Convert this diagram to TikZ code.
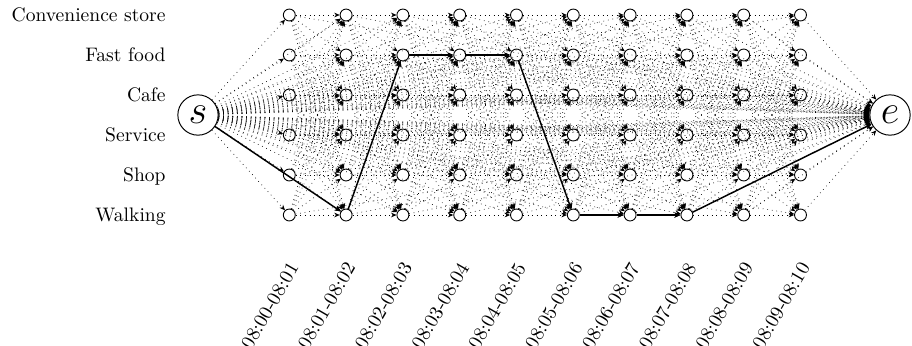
\documentclass[tikz,border=0pt]{standalone}
\usetikzlibrary{arrows.meta}
\begin{document}
\begin{tikzpicture}[x=0.511pt,y=-0.511pt,
  state/.style={circle,draw,line width=0.45pt,minimum size=6.1pt,inner sep=0pt},
  term/.style={circle,draw,line width=0.5pt,minimum size=20.6pt,inner sep=0pt,font=\huge},
  dotedge/.style={dotted,line width=0.35pt,-{Stealth[length=2.8pt,width=2.4pt]}},
  pathedge/.style={line width=0.75pt,-{Stealth[length=3.2pt,width=2.8pt]}},
  rowlabel/.style={anchor=base east,inner sep=0pt,font=\normalsize},
  timelabel/.style={anchor=east,rotate=60,inner sep=0pt,font=\normalsize}]
\useasboundingbox (0,0) rectangle (912,345);
% states
\foreach \c in {1,...,10}{
  \foreach \r in {1,...,6}{
    \node[state] (n\c-\r) at ({289.3+56.8*(\c-1)},{15+40*(\r-1)}) {};
  }
}
\node[term] (s) at (198,115) {$s$};
\node[term] (e) at (890,115) {$e$};
% row labels
\node[rowlabel] (l1) at (166,21.5) {Convenience store};
\node[rowlabel] (l2) at (166,61.5) {Fast food};
\node[rowlabel] (l3) at (166,101.5) {Cafe};
\node[rowlabel] (l4) at (166,141.5) {Service};
\node[rowlabel] (l5) at (166,181.5) {Shop};
\node[rowlabel] (l6) at (166,221.5) {Walking};
% time labels
\foreach \c [count=\i from 0] in {08:00-08:01,08:01-08:02,08:02-08:03,08:03-08:04,08:04-08:05,08:05-08:06,08:06-08:07,08:07-08:08,08:08-08:09,08:09-08:10}{
  \node[timelabel] (t\i) at ({294+56.8*\i},264) {\c};
}
% dotted edges
\foreach \c in {1,...,10}{
  \foreach \r in {1,...,6}{
    \draw[dotedge] (s) -- (n\c-\r);
    \draw[dotedge] (n\c-\r) -- (e);
  }
}
\foreach \c [evaluate=\c as \d using int(\c+1)] in {1,...,9}{
  \foreach \r in {1,...,6}{
    \foreach \q in {1,...,6}{
      \draw[dotedge] (n\c-\r) -- (n\d-\q);
    }
  }
}
% chosen path
\draw[pathedge] (s) -- (n2-6);
\draw[pathedge] (n2-6) -- (n3-2);
\draw[pathedge] (n3-2) -- (n4-2);
\draw[pathedge] (n4-2) -- (n5-2);
\draw[pathedge] (n5-2) -- (n6-6);
\draw[pathedge] (n6-6) -- (n7-6);
\draw[pathedge] (n7-6) -- (n8-6);
\draw[pathedge] (n8-6) -- (e);
\end{tikzpicture}
\end{document}
